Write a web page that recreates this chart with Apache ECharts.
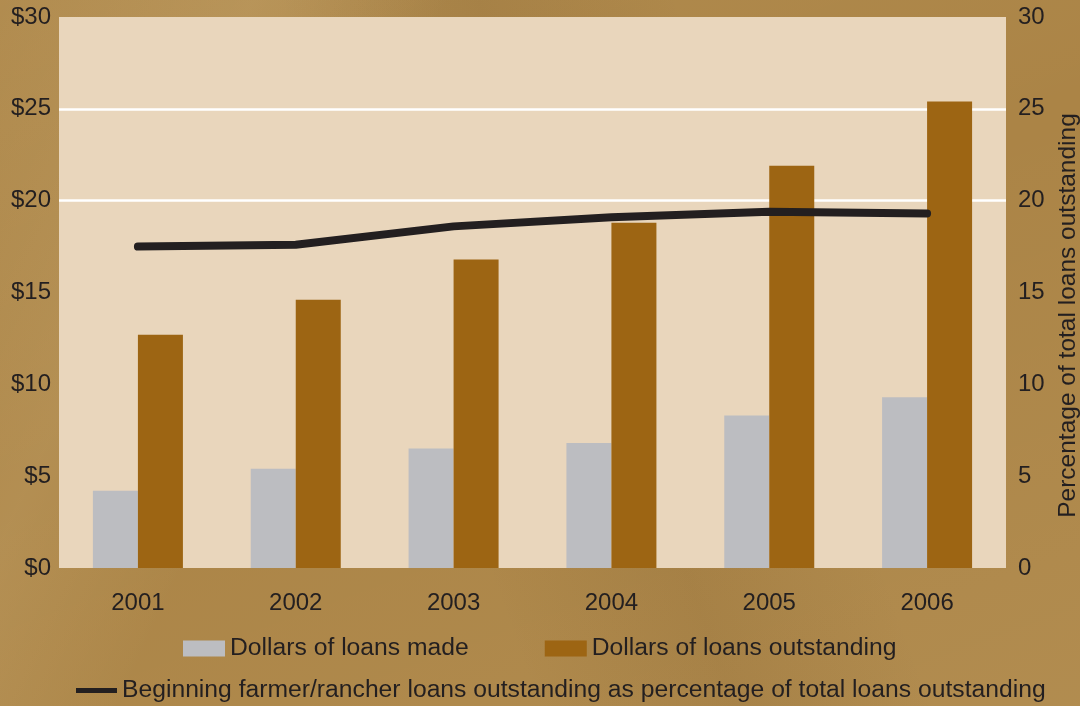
<!DOCTYPE html>
<html>
<head>
<meta charset="utf-8">
<script src="https://cdn.jsdelivr.net/npm/echarts@6/dist/echarts.min.js"></script>
<style>
  html, body { margin: 0; padding: 0; width: 1080px; height: 706px; overflow: hidden; }
  body {
    background-color: #ab8446;
    background-image:
      linear-gradient(115deg, rgba(255,235,190,0.00) 0%, rgba(255,235,190,0.10) 18%, rgba(255,235,190,0.00) 32%),
      linear-gradient(70deg, rgba(90,60,20,0.00) 40%, rgba(90,60,20,0.10) 55%, rgba(90,60,20,0.00) 70%),
      linear-gradient(160deg, rgba(255,235,190,0.08) 0%, rgba(255,235,190,0.00) 45%, rgba(255,235,190,0.08) 100%);
  }
  #chart { width: 1080px; height: 706px; }
</style>
</head>
<body>
<div id="chart"></div>
<script>
// Beginning farmer/rancher lending, 2001-2006
const years = ['2001', '2002', '2003', '2004', '2005', '2006'];
// billions of dollars
const loansMade = [4.2, 5.4, 6.5, 6.8, 8.3, 9.3];
const loansOutstanding = [12.7, 14.6, 16.8, 18.8, 21.9, 25.4];
// percent of total loans outstanding
const pctOfTotal = [17.5, 17.6, 18.6, 19.1, 19.4, 19.3];

const nameMade = 'Dollars of loans made';
const nameOutstanding = 'Dollars of loans outstanding';
const namePct = 'Beginning farmer/rancher loans outstanding as percentage of total loans outstanding';

const ink = '#231f20';
const font = 'Liberation Sans, Arial, Helvetica, sans-serif';

const chart = echarts.init(document.getElementById('chart'), null, { renderer: 'canvas' });

chart.setOption({
  animation: false,
  textStyle: { fontFamily: font, color: ink },
  grid: {
    left: 59, right: 74, top: 17, bottom: 138,
    outerBoundsMode: 'none',
    show: true, backgroundColor: '#e9d6bc', borderWidth: 0
  },
  legend: [
    {
      data: [nameMade, nameOutstanding],
      left: 183, top: 636, padding: 0,
      itemWidth: 42, itemHeight: 16, itemGap: 76,
      icon: 'rect',
      textStyle: { fontSize: 24.7, color: ink, fontFamily: font }
    },
    {
      data: [{ name: namePct, icon: 'rect' }],
      left: 76, top: 678, padding: 0,
      itemWidth: 41, itemHeight: 5,
      textStyle: { fontSize: 24.7, color: ink, fontFamily: font }
    }
  ],
  xAxis: {
    type: 'category',
    data: years,
    axisLine: { show: false },
    axisTick: { show: false },
    axisLabel: { fontSize: 24, color: ink, margin: 23, fontFamily: font }
  },
  yAxis: [
    {
      type: 'value', min: 0, max: 30, interval: 5,
      axisLine: { show: false },
      axisTick: { show: false },
      axisLabel: {
        fontSize: 24, color: ink, margin: 8, fontFamily: font,
        formatter: v => '$' + v
      },
      splitLine: {
        show: true,
        lineStyle: {
          width: 2.5,
          // only the $20 and $25 rules are drawn
          color: ['transparent', 'transparent', 'transparent', 'transparent', '#ffffff', '#ffffff', 'transparent']
        }
      }
    },
    {
      type: 'value', min: 0, max: 30, interval: 5, position: 'right',
      axisLine: { show: false },
      axisTick: { show: false },
      splitLine: { show: false },
      axisLabel: { fontSize: 24, color: ink, margin: 12, fontFamily: font },
      name: 'Percentage of total loans outstanding',
      nameLocation: 'middle',
      nameRotate: 90,
      nameGap: 45,
      nameTextStyle: { fontSize: 24.5, color: ink, fontFamily: font, padding: [0, 46, 0, 0] }
    }
  ],
  series: [
    {
      name: nameMade,
      type: 'bar',
      data: loansMade,
      barWidth: 45,
      barGap: '0%',
      itemStyle: { color: '#bcbdc1' }
    },
    {
      name: nameOutstanding,
      type: 'bar',
      data: loansOutstanding,
      barWidth: 45,
      barGap: '0%',
      itemStyle: { color: '#9d6513' }
    },
    {
      name: namePct,
      type: 'line',
      yAxisIndex: 1,
      data: pctOfTotal,
      symbol: 'none',
      itemStyle: { color: ink },
      lineStyle: { color: ink, width: 8, cap: 'round', join: 'round' },
      z: 5
    }
  ]
});
</script>
</body>
</html>
